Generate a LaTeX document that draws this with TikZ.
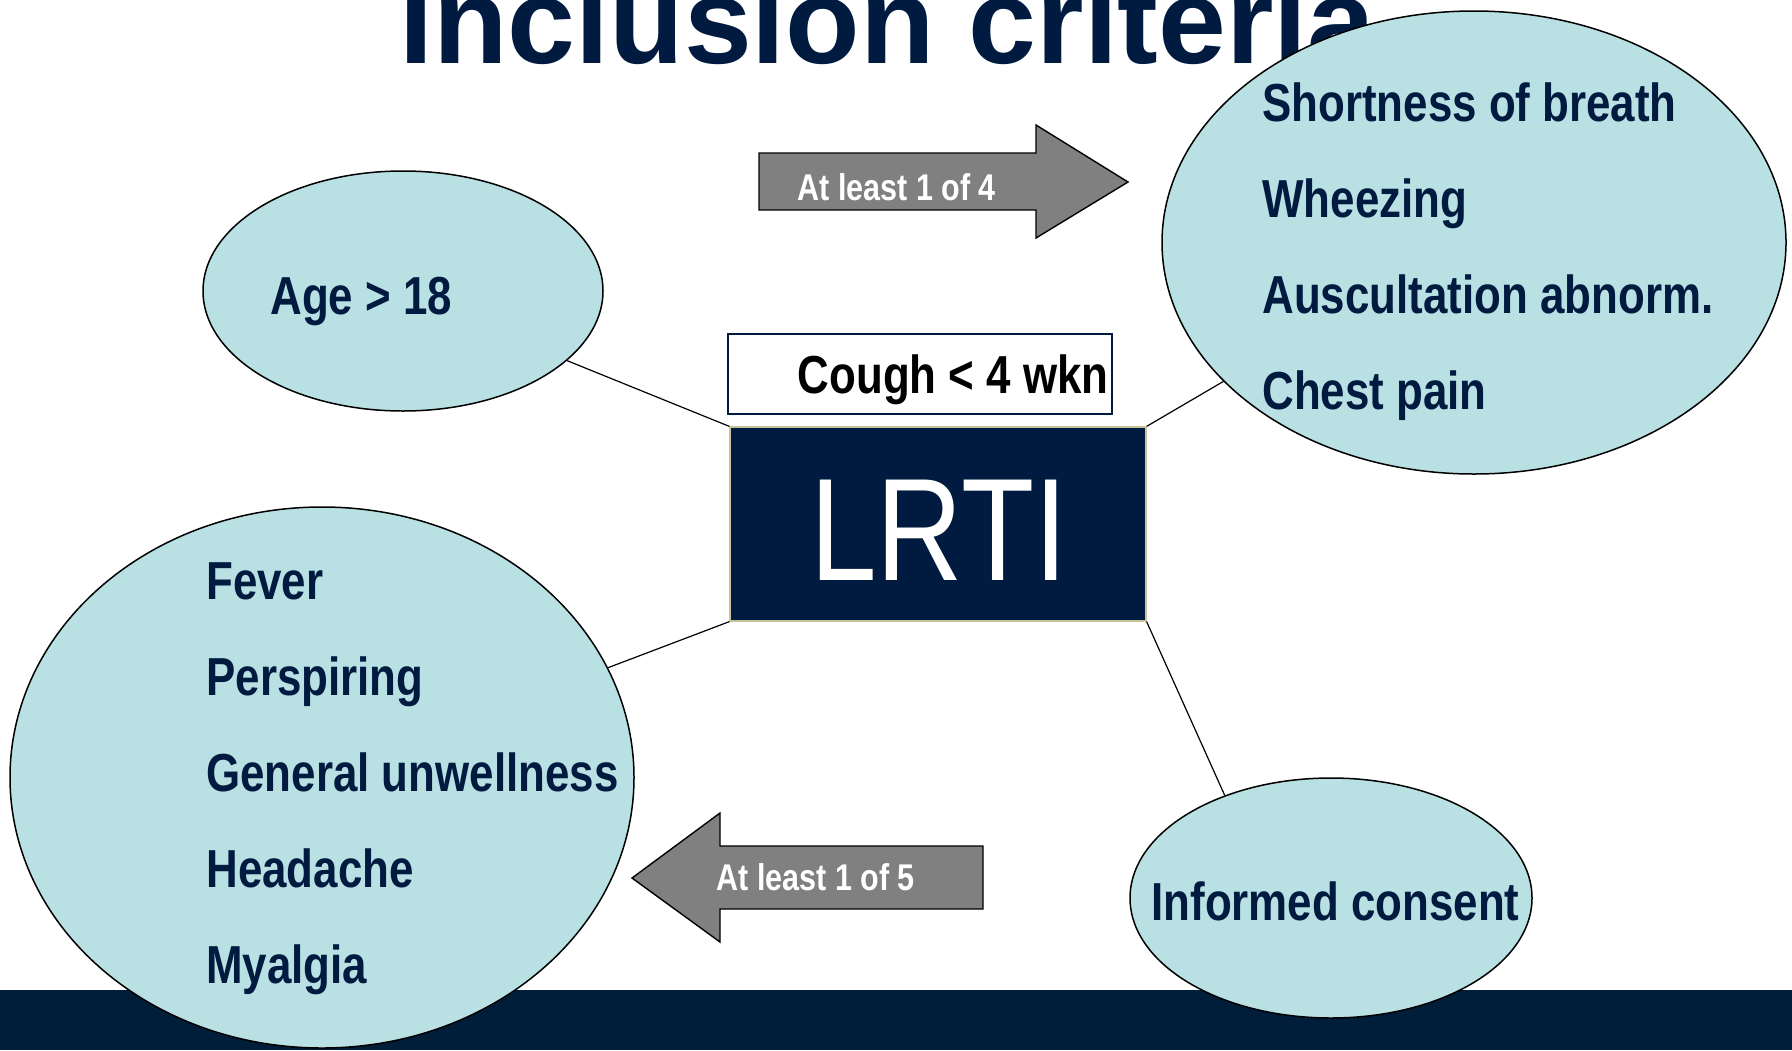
\documentclass[tikz,border=0pt]{standalone}
\usepackage{fontspec}
\setmainfont{Liberation Sans}
\newfontfamily\nb{Liberation Sans}[FakeStretch=0.82]
\usetikzlibrary{shapes.geometric}
\definecolor{navy}{RGB}{0,26,64}
\definecolor{barcol}{RGB}{0,30,58}
\definecolor{ellfill}{RGB}{185,224,227}
\definecolor{arrowgray}{RGB}{128,128,128}
\definecolor{khaki}{RGB}{200,196,160}
\begin{document}
\begin{tikzpicture}[x=0.5pt,y=-0.5pt,
  ell/.style={ellipse, draw=black, line width=0.75pt, fill=ellfill, inner sep=0pt},
  lbl/.style={anchor=base west, inner sep=0pt, text=navy, font=\nb\bfseries\fontsize{26.75}{30}\selectfont},
  conn/.style={draw=black, line width=0.6pt},
  arrowshape/.style={fill=arrowgray, draw=black, line width=0.7pt},
  arrowtxt/.style={anchor=base west, inner sep=0pt, text=white, font=\nb\bfseries\fontsize{18.6}{20}\selectfont}]
\clip (0,0) rectangle (1792,1050);
\useasboundingbox (0,0) rectangle (1792,1050);
% title
\node[anchor=base west, inner sep=0pt, text=navy, font=\bfseries\fontsize{61}{70}\selectfont] (title) at (399,63) {Inclusion criteria};
% bottom bar
\fill[barcol] (0,990) rectangle (1792,1050);
% ellipses
\node[ell, minimum width=200pt, minimum height=120pt] (age) at (403,291) {};
\node[ell, minimum width=312pt, minimum height=231.5pt] (right) at (1474,242.5) {};
\node[ell, minimum width=312pt, minimum height=270.5pt] (left) at (322,777.5) {};
\node[ell, minimum width=201pt, minimum height=120pt] (inf) at (1331,898) {};
% central boxes
\node[rectangle, fill=navy, draw=khaki, line width=0.6pt, minimum width=208pt, minimum height=97pt, inner sep=0pt] (lrti) at (938,524) {};
\node[anchor=base, inner sep=0pt, text=white, font=\nb\fontsize{73}{80}\selectfont] (lrtitxt) at (939,580) {LRTI};
\node[rectangle, draw=navy, fill=white, line width=0.7pt, minimum width=192pt, minimum height=40pt, inner sep=0pt] (cough) at (920,374) {};
\node[lbl, anchor=base east, text=black] (coughtxt) at (1109,393) {Cough < 4 wkn};
% connectors
\draw[conn] (lrti.north west) -- (age.-23);
\draw[conn] (lrti.north east) -- (right.209);
\draw[conn] (lrti.south west) -- (left.21);
\draw[conn] (lrti.south east) -- (inf.136);
% arrows
\draw[arrowshape] (759,153) -- (1036,153) -- (1036,125) -- (1128,182) -- (1036,238) -- (1036,210) -- (759,210) -- cycle;
\node[arrowtxt] (a4) at (797,200) {At least 1 of 4};
\draw[arrowshape] (983,846) -- (720,846) -- (720,813) -- (632,878) -- (720,942) -- (720,909) -- (983,909) -- cycle;
\node[arrowtxt] (a5) at (716,890) {At least 1 of 5};
% ellipse texts
\node[lbl] (agetxt) at (270,314) {Age > 18};
\node[lbl] (r1) at (1262,121) {Shortness of breath};
\node[lbl] (r2) at (1262,217) {Wheezing};
\node[lbl] (r3) at (1262,313) {Auscultation abnorm.};
\node[lbl] (r4) at (1262,409) {Chest pain};
\node[lbl] (l1) at (206,599) {Fever};
\node[lbl] (l2) at (206,695) {Perspiring};
\node[lbl] (l3) at (206,791) {General unwellness};
\node[lbl] (l4) at (206,887) {Headache};
\node[lbl] (l5) at (206,983) {Myalgia};
\node[lbl] (inftxt) at (1151,920) {Informed consent};
\end{tikzpicture}
\end{document}
